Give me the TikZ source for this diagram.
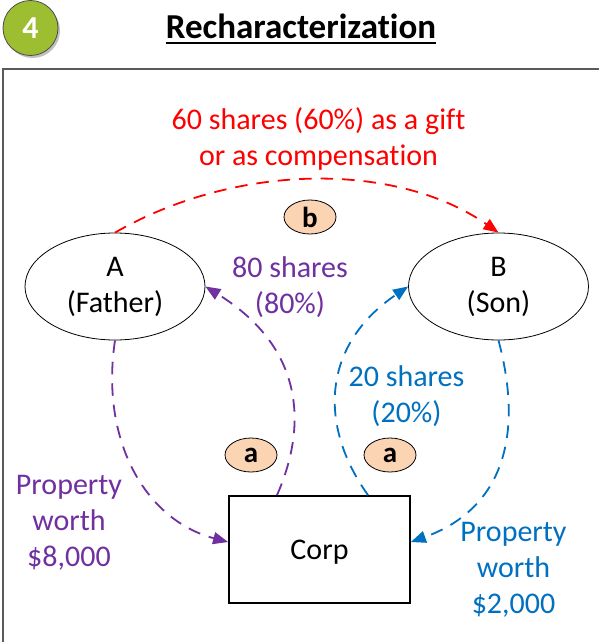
\documentclass[tikz,border=0pt]{standalone}
\usepackage{fontspec}
\setmainfont{Carlito}[Ligatures=NoCommon]
\usetikzlibrary{arrows.meta,shapes.geometric}
\definecolor{cred}{RGB}{255,0,0}
\definecolor{cpurple}{RGB}{112,48,160}
\definecolor{cblue}{RGB}{0,112,192}
\definecolor{cpeach}{RGB}{251,212,180}
\definecolor{cgreen}{RGB}{158,190,50}
\definecolor{cframe}{RGB}{90,90,90}
\tikzset{
  txt/.style={font=\fontsize{30}{36}\selectfont, align=center, inner sep=0pt},
  party/.style={ellipse, draw, line width=0.8pt, minimum width=180pt, minimum height=107pt, inner sep=0pt, txt},
  badge/.style={ellipse, draw, line width=0.8pt, fill=cpeach, minimum width=52pt, minimum height=34pt, inner sep=0pt, font=\bfseries\fontsize{29}{30}\selectfont},
  corpbox/.style={rectangle, draw, line width=1.8pt, minimum width=181pt, minimum height=107pt, inner sep=0pt, text depth=0pt, txt},
  flow/.style={dash pattern=on 12.5pt off 9pt, line width=1.8pt, -{Triangle[length=15pt,width=12pt]}}
}
\begin{document}
\begin{tikzpicture}[x=1pt,y=1pt]
\useasboundingbox (0,0) rectangle (599,-642);
\fill[white] (0,0) rectangle (599,-642);
\begin{scope}
  \clip (0,0) rectangle (599,-642);
  \draw[cframe, line width=2pt] (3,-69) rectangle (640,-680);
\end{scope}
% number badge
\fill[black!25] (32.5,-30.5) circle (27.5);
\node[circle, fill=cgreen, draw=black!70, line width=0.8pt, minimum size=55pt, inner sep=0pt,
      text=white, font=\bfseries\fontsize{32}{32}\selectfont] (num) at (30.5,-28) {4};
% title
\node[anchor=base, inner sep=0pt, font=\bfseries\fontsize{35}{38}\selectfont] (title) at (301,-38.5) {Recharacterization};
\draw[line width=2pt] ([yshift=-4.5pt]title.base west) -- ([yshift=-4.5pt]title.base east);
% parties
\node[party] (A) at (115,-286.5) {A\\(Father)};
\node[party] (B) at (498.5,-286.5) {B\\(Son)};
\node[corpbox] (corp) at (319.5,-549.5) {Corp};
% badges
\node[badge] (bb) at (310,-217) {b};
\node[badge] (a1) at (251,-455) {a};
\node[badge] (a2) at (390,-455) {a};
% labels
\node[txt, text=cred] (lred) at (318.5,-139) {60 shares (60\%) as a gift\\or as compensation};
\node[txt, text=cpurple] (l80) at (290,-287.5) {80 shares\\(80\%)};
\node[txt, text=cpurple] (lp8) at (69,-522.5) {Property\\worth\\\$8,000};
\node[txt, text=cblue] (l20) at (406.5,-396.5) {20 shares\\(20\%)};
\node[txt, text=cblue] (lp2) at (513.5,-570) {Property\\worth\\\$2,000};
% flows
\draw[flow, cred] (A.north) .. controls (238,-162) and (397,-162) .. (B.north);
\draw[flow, cpurple] (A.south) .. controls (100,-440) and (145,-520) .. ([yshift=7.5pt]corp.west);
\draw[flow, cpurple] ([xshift=-42.5pt]corp.north) .. controls (310,-420) and (300,-345) .. (A.east);
\draw[flow, cblue] ([xshift=48.5pt]corp.north) .. controls (318,-425) and (322,-345) .. (B.west);
\draw[flow, cblue] (B.south) .. controls (525,-440) and (500,-510) .. ([yshift=7.5pt]corp.east);
\end{tikzpicture}
\end{document}
